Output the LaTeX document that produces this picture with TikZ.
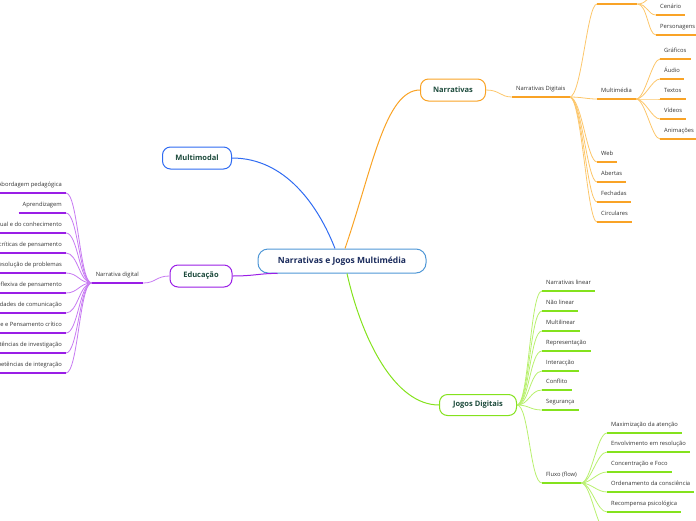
\documentclass[tikz,border=0pt]{standalone}
\usepackage{fontspec}
\setmainfont{Open Sans}
\definecolor{rootblue}{HTML}{4F97D6}
\definecolor{rootink}{HTML}{1A2B5C}
\definecolor{topicink}{HTML}{1D4B3C}
\definecolor{leafink}{HTML}{333333}
\definecolor{mmblue}{HTML}{2F6BF2}
\definecolor{narorange}{HTML}{F9A326}
\definecolor{narlight}{HTML}{FCC66A}
\definecolor{edupurple}{HTML}{9A1EE6}
\definecolor{edulight}{HTML}{C77AF2}
\definecolor{jdgreen}{HTML}{84E21D}
\definecolor{jdlight}{HTML}{B8F06E}
\tikzset{
  topic/.style={draw=#1, line width=1pt, rounded corners=8pt, fill=white,
    minimum height=22pt, text=topicink, font=\fontsize{7.5}{9}\selectfont\bfseries},
  leaf/.style={inner xsep=4pt, inner ysep=4.5pt, text height=5pt, text depth=1.5pt,
    text=leafink, font=\fontsize{5.8}{7}\selectfont},
  twig/.style={draw=#1, line width=0.8pt},
  bar/.style={draw=#1, line width=2pt},
}
\begin{document}
\begin{tikzpicture}[x=1pt,y=-1pt]
    \useasboundingbox (0,0) rectangle (696,520);
    \clip (0,0) rectangle (696,520);

    % Main topics
    \node[topic=rootblue, minimum width=168pt, minimum height=24pt, rounded corners=10pt,
        text=rootink, font=\fontsize{8.5}{10}\selectfont\bfseries] (root) at (342,261) {Narrativas e Jogos Multimédia};
    \node[topic=mmblue, minimum width=69pt] (multimodal) at (197,158) {Multimodal};
    \node[topic=edupurple, minimum width=62pt] (educacao) at (201,276) {Educação};
    \node[topic=narorange, minimum width=65pt] (narrativas) at (453,90) {Narrativas};
    \node[topic=jdgreen, minimum width=77pt, minimum height=21pt] (jogos) at (478,405) {Jogos Digitais};

    \draw[twig=mmblue, line width=1pt] (multimodal.east) .. controls (285,158) and (318,205) .. ([xshift=-7pt]root.north);
    \draw[twig=narorange, line width=1pt] ([xshift=3pt]root.north) .. controls (372,170) and (385,90) .. (narrativas.west);
    \draw[twig=edupurple, line width=1pt] (educacao.east) .. controls (255,276) and (262,273) .. ([xshift=20pt]root.south west);
    \draw[twig=jdgreen, line width=1pt] ([xshift=5pt]root.south) .. controls (362,340) and (395,405) .. (jogos.west);

    % Narrativas
    \node[leaf, anchor=south west] (nds) at (512,97) {Narrativas Digitais};
    \draw[twig=narlight] (narrativas.east) .. controls (500,90) and (500,97) .. (nds.south west);

    \node[leaf, anchor=south west, minimum width=40pt] (ndtop) at (597,4) {};
    \node[leaf, anchor=south west] (multimedia) at (597,99) {Multimédia};
    \node[leaf, anchor=south west] (web) at (597,162) {Web};
    \node[leaf, anchor=south west] (abertas) at (597,182) {Abertas};
    \node[leaf, anchor=south west] (fechadas) at (597,202) {Fechadas};
    \node[leaf, anchor=south west] (circulares) at (597,222) {Circulares};
    \foreach \n in {ndtop,multimedia,web,abertas,fechadas,circulares}
        \draw[twig=narlight] (nds.south east) .. controls +(12,0) and +(-10,0) .. (\n.south west);

    \node[leaf, anchor=south west, minimum width=30pt] (ndtopup) at (656,-5) {};
    \node[leaf, anchor=south west] (cenario) at (656,15) {Cenário};
    \node[leaf, anchor=south west] (personagens) at (656,35) {Personagens};
    \foreach \n in {ndtopup,cenario,personagens}
        \draw[twig=narlight] (ndtop.south east) .. controls +(10,0) and +(-8,0) .. (\n.south west);

    \node[leaf, anchor=south west] (graficos) at (660,59) {Gráficos};
    \node[leaf, anchor=south west] (audio) at (660,79) {Áudio};
    \node[leaf, anchor=south west] (textos) at (660,99) {Textos};
    \node[leaf, anchor=south west] (videos) at (660,119) {Vídeos};
    \node[leaf, anchor=south west] (animacoes) at (660,139) {Animações};
    \foreach \n in {graficos,audio,textos,videos,animacoes}
        \draw[twig=narlight] (multimedia.south east) .. controls +(9,0) and +(-8,0) .. (\n.south west);

    \foreach \n in {nds,ndtop,multimedia,web,abertas,fechadas,circulares,ndtopup,cenario,personagens,
        graficos,audio,textos,videos,animacoes}
        \draw[bar=narorange] (\n.south west) -- (\n.south east);

    % Educacao
    \node[leaf, anchor=south east] (ndigital) at (143,283) {Narrativa digital};
    \draw[twig=edulight] (educacao.west) .. controls (156,276) and (156,283) .. (ndigital.south east);

    \node[leaf, anchor=south east] (abordagem) at (66,193) {Abordagem pedagógica};
    \node[leaf, anchor=south east] (aprendizagem) at (66,213) {Aprendizagem};
    \node[leaf, anchor=south east] (conhecimento) at (66,233) {Desenvolvimento conceptual e do conhecimento};
    \node[leaf, anchor=south east] (criticas) at (66,253) {Capacidades críticas de pensamento};
    \node[leaf, anchor=south east] (problemas) at (66,273) {Resolução de problemas};
    \node[leaf, anchor=south east] (reflexiva) at (66,293) {Capacidade reflexiva de pensamento};
    \node[leaf, anchor=south east] (comunicacao) at (66,313) {Capacidades de comunicação};
    \node[leaf, anchor=south east] (criatividade) at (66,333) {Criatividade e Pensamento crítico};
    \node[leaf, anchor=south east] (investigacao) at (66,353) {Competências de investigação};
    \node[leaf, anchor=south east] (integracao) at (66,373) {Competências de integração};
    \foreach \n in {abordagem,aprendizagem,conhecimento,criticas,problemas,reflexiva,
        comunicacao,criatividade,investigacao,integracao}
        \draw[twig=edulight] (ndigital.south west) .. controls +(-12,0) and +(12,0) .. (\n.south east);

    \foreach \n in {ndigital,abordagem,aprendizagem,conhecimento,criticas,problemas,reflexiva,
        comunicacao,criatividade,investigacao,integracao}
        \draw[bar=edupurple] (\n.south west) -- (\n.south east);

    % Jogos Digitais
    \node[leaf, anchor=south west] (nlinear) at (542,291) {Narrativas linear};
    \node[leaf, anchor=south west] (naolinear) at (542,311) {Não linear};
    \node[leaf, anchor=south west] (multilinear) at (542,331) {Multilinear};
    \node[leaf, anchor=south west] (representacao) at (542,351) {Representação};
    \node[leaf, anchor=south west] (interaccao) at (542,371) {Interacção};
    \node[leaf, anchor=south west] (conflito) at (542,390) {Conflito};
    \node[leaf, anchor=south west] (seguranca) at (542,410) {Segurança};
    \node[leaf, anchor=south west] (fluxo) at (542,483) {Fluxo (flow)};
    \foreach \n in {nlinear,naolinear,multilinear,representacao,interaccao,conflito,seguranca,fluxo}
        \draw[twig=jdlight] (jogos.east) .. controls +(12,0) and +(-12,0) .. (\n.south west);

    \node[leaf, anchor=south west] (atencao) at (607,433) {Maximização da atenção};
    \node[leaf, anchor=south west] (resolucao) at (607,452) {Envolvimento em resolução};
    \node[leaf, anchor=south west] (foco) at (607,472) {Concentração e Foco};
    \node[leaf, anchor=south west] (consciencia) at (607,492) {Ordenamento da consciência};
    \node[leaf, anchor=south west] (recompensa) at (607,512) {Recompensa psicológica};
    \node[leaf, anchor=south west, minimum width=30pt] (fluxoextra) at (607,532) {};
    \foreach \n in {atencao,resolucao,foco,consciencia,recompensa,fluxoextra}
        \draw[twig=jdlight] (fluxo.south east) .. controls +(10,0) and +(-10,0) .. (\n.south west);

    \foreach \n in {nlinear,naolinear,multilinear,representacao,interaccao,conflito,seguranca,fluxo,
        atencao,resolucao,foco,consciencia,recompensa,fluxoextra}
        \draw[bar=jdgreen] (\n.south west) -- (\n.south east);
\end{tikzpicture}
\end{document}
